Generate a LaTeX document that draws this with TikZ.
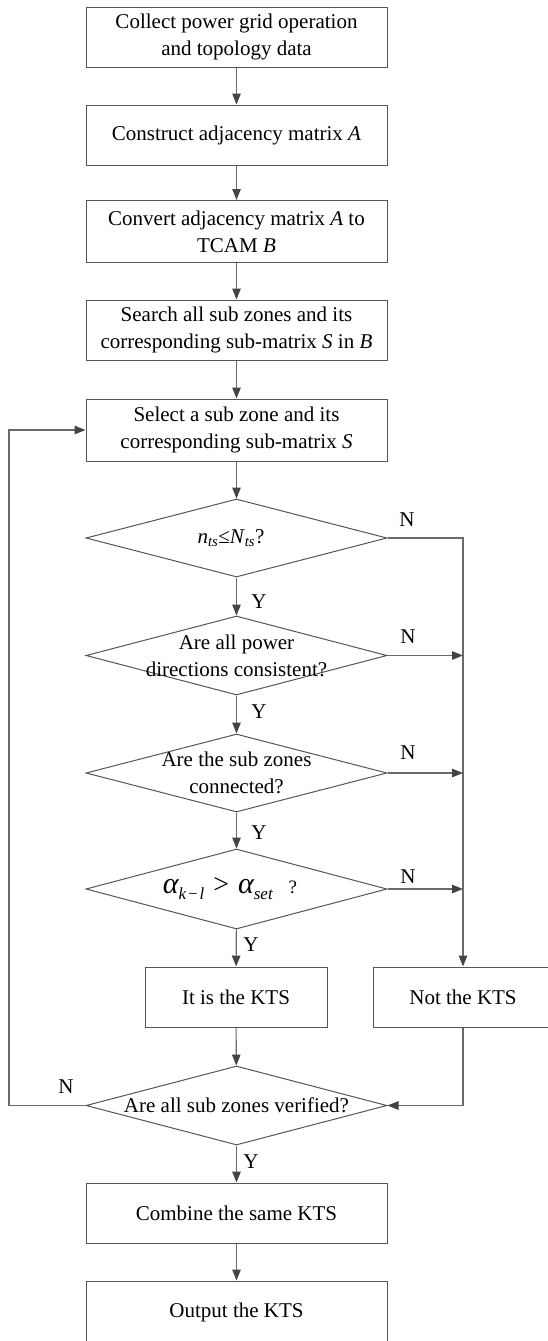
\documentclass[tikz,border=0pt]{standalone}
\usepackage{fontspec}
\setmainfont{Liberation Serif}
\usetikzlibrary{shapes.geometric,arrows.meta}
\definecolor{boxc}{HTML}{555555}
\definecolor{linec}{HTML}{6A6A6A}
\definecolor{tipc}{HTML}{444444}
\begin{document}
\begin{tikzpicture}[x=1pt,y=-1pt,
  every node/.style={font=\fontsize{21}{27}\selectfont},
  stepbox/.style={draw=boxc,line width=1pt,rectangle,minimum width=301pt,minimum height=60pt,align=center,inner sep=0pt},
  dia/.style={draw=boxc,line width=1pt,diamond,minimum width=301pt,minimum height=79pt,inner sep=0pt},
  conn/.style={draw=linec,line width=1.1pt},
  arr/.style={conn,-{Triangle[length=11pt,width=8.5pt,color=tipc]}},
  lbl/.style={inner sep=0pt}
]
\useasboundingbox (0,0) rectangle (548,1341);
\clip (0,0) rectangle (548,1341);

\node[stepbox] (b1) at (236.5,37) {Collect power grid operation\\and topology data};
\node[stepbox] (b2) at (236.5,135) {Construct adjacency matrix \textit{A}};
\node[stepbox,minimum height=62pt] (b3) at (236.5,231.5) {Convert adjacency matrix \textit{A} to\\TCAM \textit{B}};
\node[stepbox] (b4) at (236.5,330) {Search all sub zones and its\\corresponding sub-matrix \textit{S} in \textit{B}};
\node[stepbox,minimum height=62pt] (b5) at (236.5,430) {Select a sub zone and its\\corresponding sub-matrix \textit{S}};

\node[dia,minimum height=78pt] (d1) at (236.5,538) {};
\node[lbl] at (231,538) {\textit{n}\textsubscript{\textit{ts}}≤\textit{N}\textsubscript{\textit{ts}}?};
\node[dia] (d2) at (236.5,655.5) {};
\node[lbl,align=center] at (236.5,655.5) {Are all power\\directions consistent?};
\node[dia,minimum height=78pt] (d3) at (236.5,773) {};
\node[lbl,align=center] at (236.5,773) {Are the sub zones\\connected?};
\node[dia,minimum height=80pt] (d4) at (236.5,889) {};
\node[lbl] at (230,889) {{\fontsize{30}{30}\selectfont\itshape α}\raisebox{-6pt}{\fontsize{17}{17}\selectfont\itshape k\kern1pt−\kern1pt l}\hspace{9pt}{\fontsize{28}{28}\selectfont >}\hspace{9pt}{\fontsize{30}{30}\selectfont\itshape α}\raisebox{-6pt}{\fontsize{17}{17}\selectfont\itshape set}\hspace{16pt}{\fontsize{19}{19}\selectfont ?}};

\node[stepbox,minimum width=182pt] (k1) at (236,997) {It is the KTS};
\node[stepbox,minimum width=180pt] (k2) at (463,997) {Not the KTS};

\node[dia] (d5) at (236.5,1105.5) {};
\node[lbl] at (236.5,1105.5) {Are all sub zones verified?};

\node[stepbox] (c1) at (236.5,1213) {Combine the same KTS};
\node[stepbox,minimum height=62pt] (c2) at (236.5,1312) {Output the KTS};

\coordinate (L) at (9,1105.5);

% main flow
\draw[arr] (b1) -- (b2);
\draw[arr] (b2) -- (b3);
\draw[arr] (b3) -- (b4);
\draw[arr] (b4) -- (b5);
\draw[arr] (b5) -- (d1);
\draw[arr] (d1) -- (d2);
\draw[arr] (d2) -- (d3);
\draw[arr] (d3) -- (d4);
\draw[arr] (d4) -- (k1);
\draw[arr] (k1) -- (d5);
\draw[arr] (d5) -- (c1);
\draw[arr] (c1) -- (c2);

% N branches
\draw[arr] (d1.east) -- (d1.east -| k2.north) -- (k2.north);
\draw[arr] (d2.east) -- (d2.east -| k2.north);
\draw[arr] (d3.east) -- (d3.east -| k2.north);
\draw[arr] (d4.east) -- (d4.east -| k2.north);
\draw[arr] (k2.south) -- (k2.south |- d5.east) -- (d5.east);
\draw[arr] (d5.west) -- (L) |- (b5.west);

% labels
\node[lbl] at (259,602) {Y};
\node[lbl] at (259,712) {Y};
\node[lbl] at (259,833) {Y};
\node[lbl] at (251,945) {Y};
\node[lbl] at (251,1162) {Y};
\node[lbl] at (407,520) {N};
\node[lbl] at (408,637) {N};
\node[lbl] at (408,753) {N};
\node[lbl] at (408,877) {N};
\node[lbl] at (66,1087) {N};
\end{tikzpicture}
\end{document}
